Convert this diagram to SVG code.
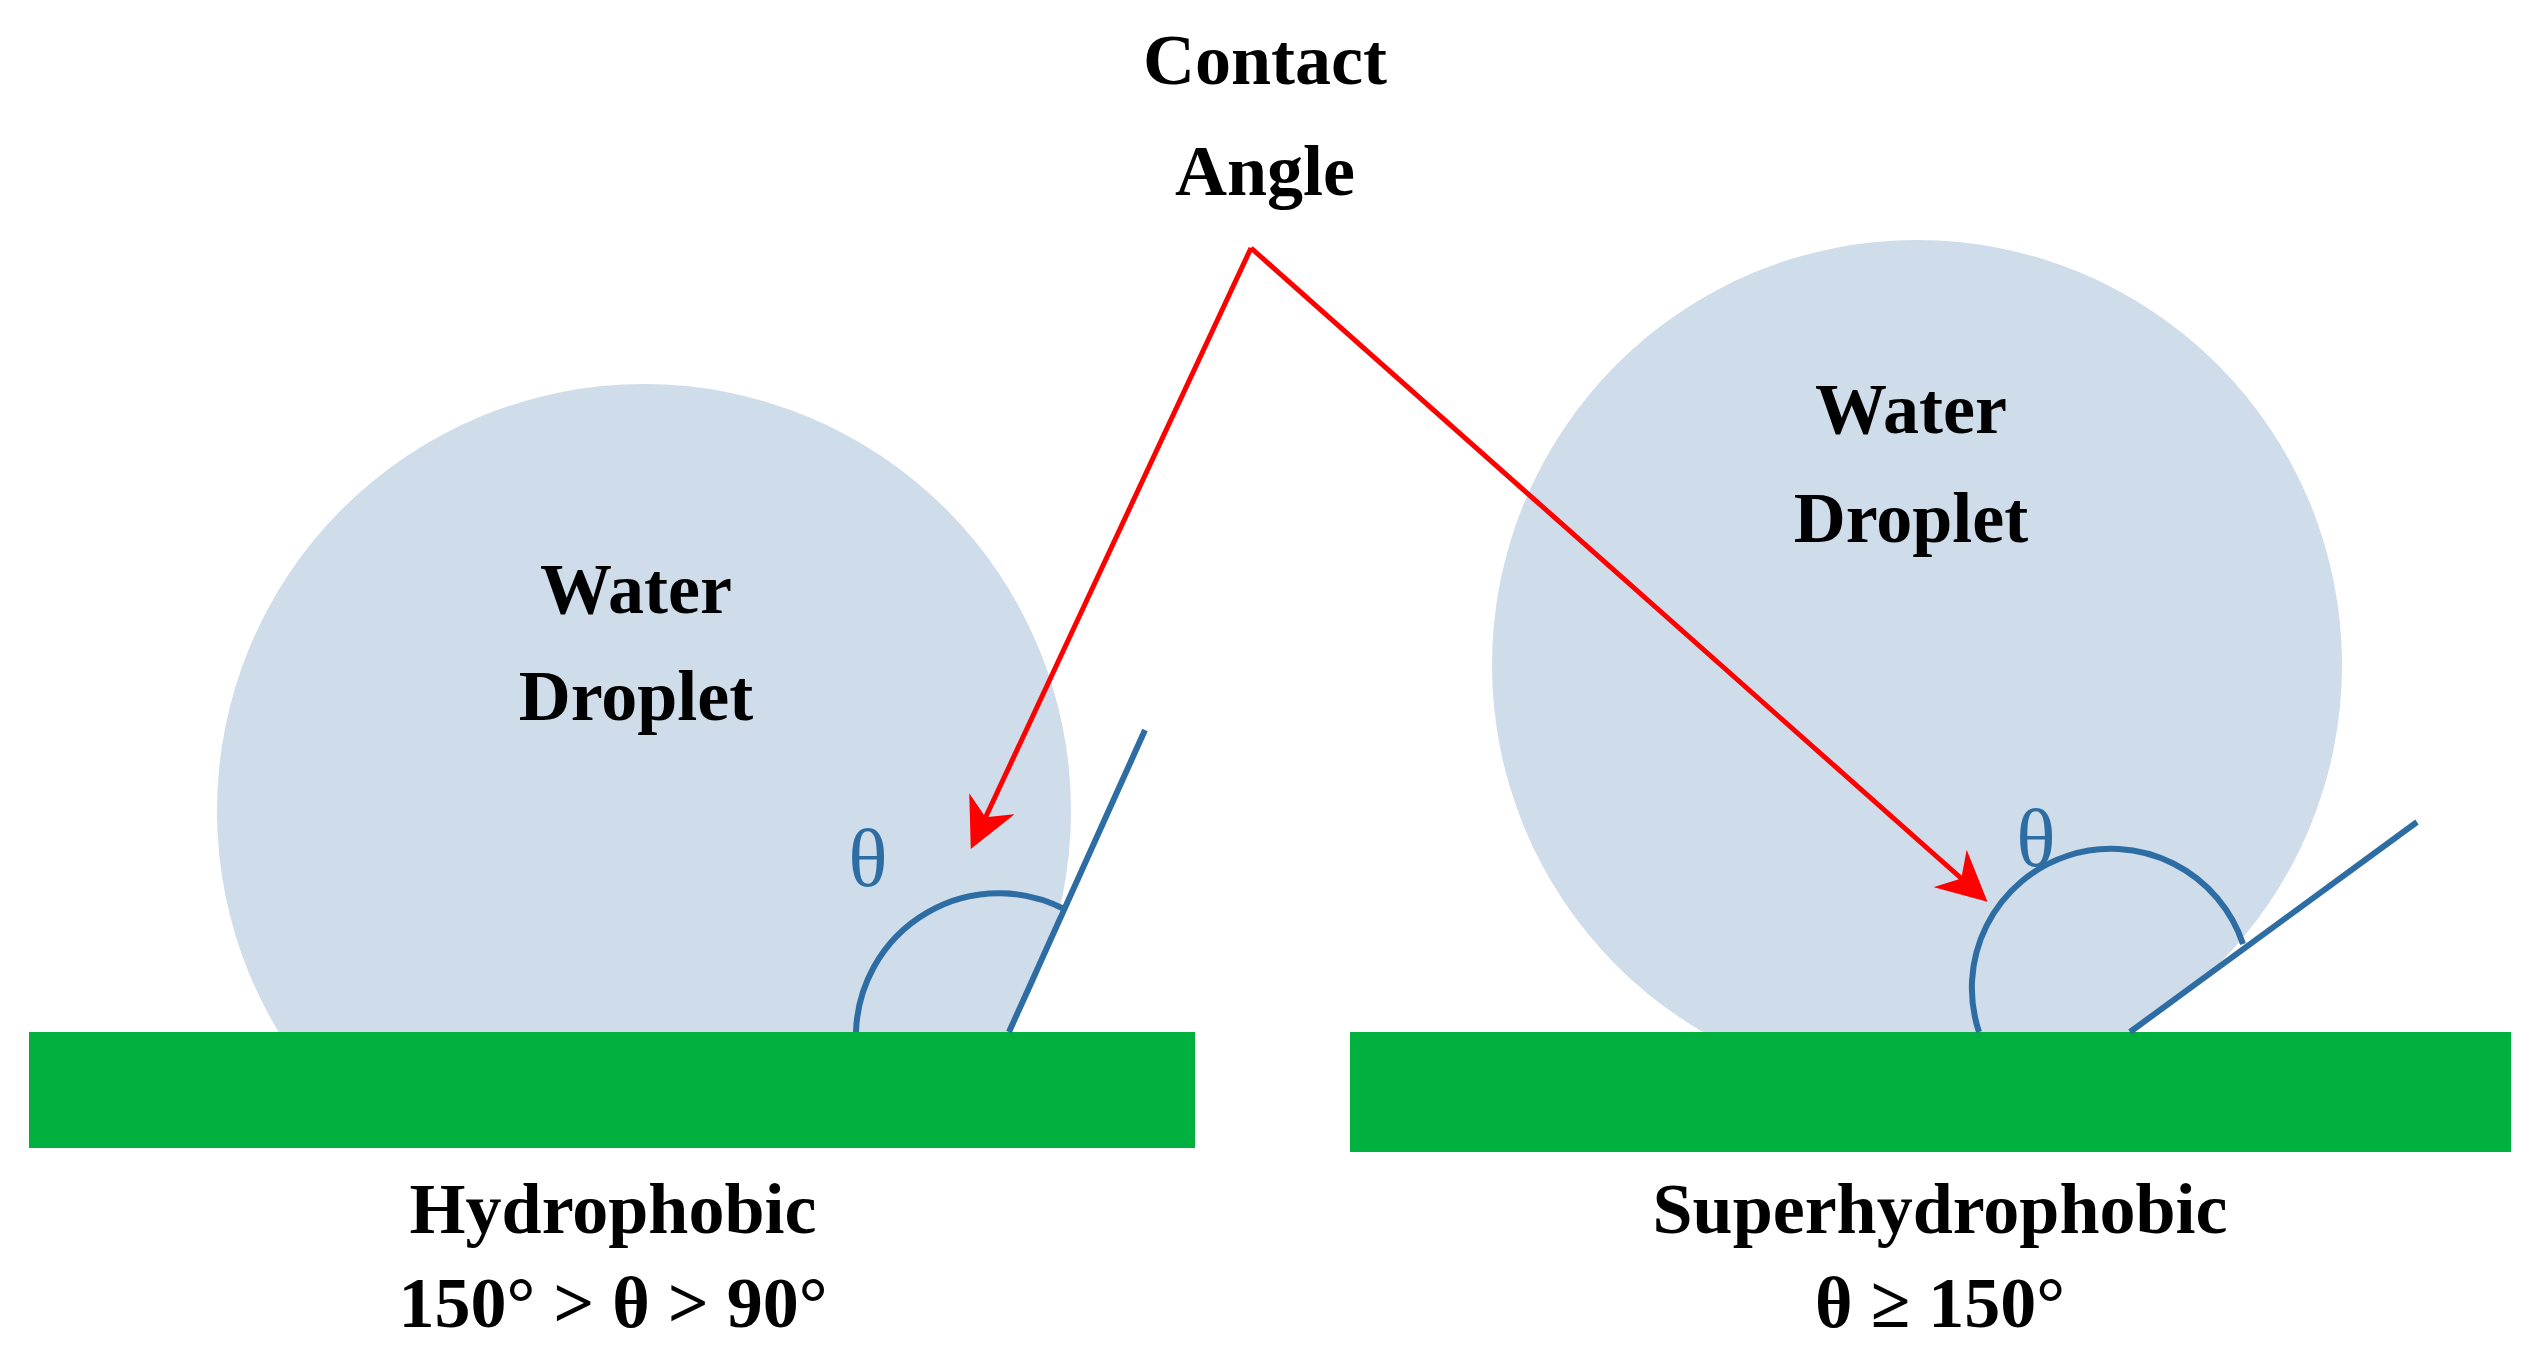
<svg xmlns="http://www.w3.org/2000/svg" width="2530" height="1363" viewBox="0 0 2530 1363">
<style>
.t{font-family:"Liberation Serif",serif;font-weight:bold;font-size:72px;fill:#000;text-anchor:middle}
.th{font-family:"Liberation Serif",serif;font-size:82px;fill:#2e6da4;text-anchor:middle}
.drop{fill:#cfdce9}
.bar{fill:#00b140}
.ang{fill:none;stroke:#2e6da4;stroke-width:6}
.arr{stroke:#ff0000;stroke-width:5;fill:none}
</style>
<defs>
<marker id="ah" markerWidth="10" markerHeight="10" refX="8" refY="5" orient="auto" markerUnits="strokeWidth"><path d="M0,0 L10,5 L0,10 L3,5 Z" fill="#ff0000"/></marker>
<clipPath id="cl"><rect x="0" y="0" width="2530" height="1032"/></clipPath>
</defs>
<rect width="2530" height="1363" fill="#fff"/>
<g id="left">
<circle class="drop" cx="644" cy="811" r="427" clip-path="url(#cl)"/>
<rect class="bar" x="29" y="1032" width="1166" height="116"/>
<path class="ang" d="M856,1032 A143,143 0 0 1 1066,910"/>
<line class="ang" x1="1009" y1="1032" x2="1145" y2="730"/>
<text class="th" x="868" y="886">θ</text>
<text class="t" x="636" y="613">Water</text>
<text class="t" x="636" y="720">Droplet</text>
<text class="t" x="613" y="1233">Hydrophobic</text>
<text class="t" x="613" y="1327">150° &gt; θ &gt; 90°</text>
</g>
<g id="right">
<circle class="drop" cx="1917" cy="665" r="425" clip-path="url(#cl)"/>
<rect class="bar" x="1350" y="1032" width="1161" height="120"/>
<path class="ang" d="M1979,1032 A135,135 0 0 1 2243,944"/>
<line class="ang" x1="2130" y1="1032" x2="2417" y2="822"/>
<text class="th" x="2036" y="866">θ</text>
<text class="t" x="1911" y="433">Water</text>
<text class="t" x="1911" y="542">Droplet</text>
<text class="t" x="1940" y="1233">Superhydrophobic</text>
<text class="t" x="1940" y="1327">θ ≥ 150°</text>
</g>
<g id="label">
<text class="t" x="1265" y="84">Contact</text>
<text class="t" x="1265" y="195">Angle</text>
</g>
<g id="connectors">
<line class="arr" x1="1251" y1="248" x2="975" y2="840" marker-end="url(#ah)"/>
<line class="arr" x1="1251" y1="248" x2="1980" y2="895" marker-end="url(#ah)"/>
</g>
</svg>
